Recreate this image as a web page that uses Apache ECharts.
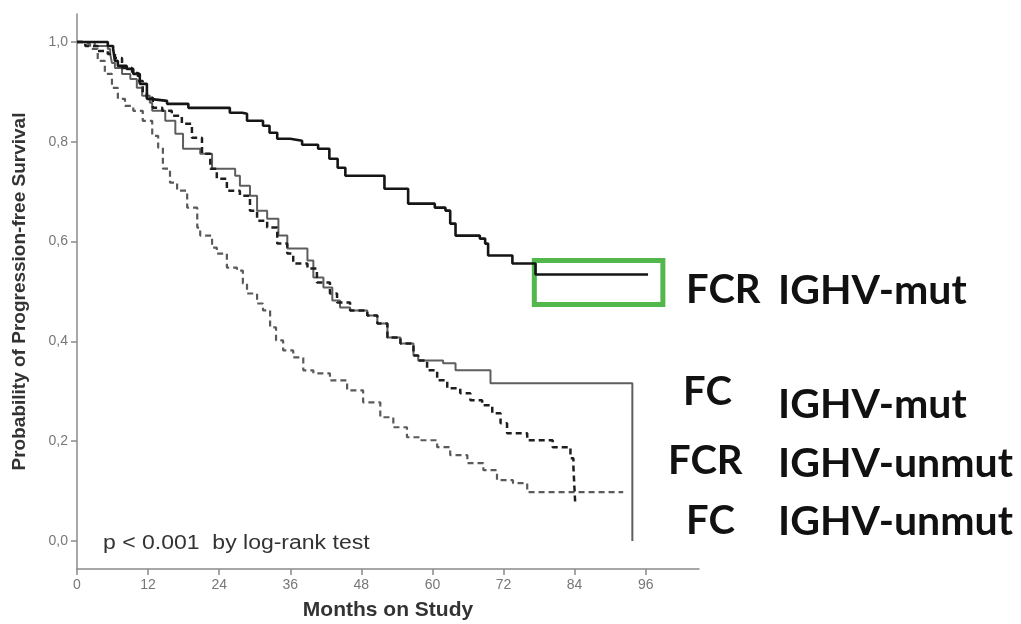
<!DOCTYPE html>
<html>
<head>
<meta charset="utf-8">
<script src="https://cdn.jsdelivr.net/npm/echarts@6/dist/echarts.min.js"></script>
<style>
  html, body { margin: 0; padding: 0; background: #fff; }
  #main { width: 1021px; height: 624px; }
</style>
</head>
<body>
<div id="main"></div>
<script>
// ==============================
// data
// ==============================

const xTicks = [0, 12, 24, 36, 48, 60, 72, 84, 96];
const yTicks = [0, 0.2, 0.4, 0.6, 0.8, 1.0];

// FCR IGHV-mut
const fcrMutMonths = [0, 5.2, 6.1, 6.4, 6.9, 8.4, 9.5, 10.6, 11.8, 12.3, 15.2, 18.8, 25.8, 27.9, 28.7, 31.4, 32.5, 33.8, 36.0, 38.0, 40.7, 42.6, 44.0, 45.3, 51.9, 55.9, 60.4, 62.2, 63.0, 63.9, 68.0, 68.9, 69.4, 73.5, 77.4, 96.4];
const fcrMutPFS    = [1.0, 0.992, 0.986, 0.962, 0.952, 0.946, 0.936, 0.916, 0.886, 0.882, 0.876, 0.868, 0.858, 0.856, 0.842, 0.832, 0.818, 0.806, 0.802, 0.794, 0.786, 0.766, 0.748, 0.732, 0.706, 0.676, 0.668, 0.662, 0.636, 0.612, 0.606, 0.596, 0.572, 0.556, 0.534, 0.534];

// FC IGHV-mut
const fcMutMonths = [0, 3.0, 5.2, 5.6, 5.9, 6.4, 7.6, 9.0, 10.1, 11.0, 12.3, 12.7, 14.9, 16.6, 17.9, 20.8, 22.8, 26.7, 27.5, 29.2, 30.4, 32.1, 34.0, 35.5, 38.9, 39.9, 41.6, 43.1, 44.4, 46.1, 49.0, 50.7, 52.4, 54.6, 56.8, 57.6, 61.8, 63.9, 69.8, 93.75, 93.75];
const fcMutPFS    = [1.0, 0.992, 0.986, 0.976, 0.958, 0.948, 0.936, 0.926, 0.908, 0.892, 0.878, 0.862, 0.842, 0.816, 0.786, 0.776, 0.746, 0.732, 0.712, 0.692, 0.662, 0.646, 0.612, 0.586, 0.562, 0.528, 0.508, 0.482, 0.468, 0.462, 0.452, 0.436, 0.408, 0.396, 0.372, 0.362, 0.356, 0.342, 0.316, 0.316, 0];

// FCR IGHV-unmut
const fcrUnmutMonths = [0, 1.4, 3.5, 5.2, 6.4, 7.6, 9.3, 10.3, 11.1, 11.8, 12.8, 14.4, 16.0, 17.7, 19.4, 21.1, 22.5, 23.6, 25.3, 27.5, 29.2, 30.4, 32.1, 33.8, 35.5, 36.5, 38.9, 40.5, 42.7, 43.9, 46.1, 49.0, 50.7, 52.4, 54.6, 56.8, 57.6, 59.1, 60.8, 62.5, 64.7, 66.4, 68.4, 70.1, 71.5, 72.6, 76.0, 80.3, 83.3, 83.8, 84.1];
const fcrUnmutPFS    = [1.0, 0.992, 0.982, 0.976, 0.968, 0.948, 0.938, 0.922, 0.898, 0.888, 0.868, 0.862, 0.852, 0.836, 0.808, 0.776, 0.746, 0.726, 0.702, 0.692, 0.662, 0.642, 0.628, 0.596, 0.576, 0.556, 0.546, 0.518, 0.496, 0.478, 0.462, 0.452, 0.436, 0.408, 0.396, 0.372, 0.362, 0.342, 0.322, 0.306, 0.296, 0.282, 0.272, 0.256, 0.236, 0.216, 0.202, 0.188, 0.166, 0.148, 0.076];

// FC IGHV-unmut
const fcUnmutMonths = [0, 0.8, 2.2, 3.5, 4.7, 5.9, 6.9, 8.1, 9.5, 11.1, 12.7, 13.7, 14.5, 15.7, 16.9, 18.6, 20.3, 20.8, 22.8, 23.6, 25.3, 27.0, 28.0, 28.7, 30.4, 31.4, 32.6, 33.6, 34.8, 36.5, 38.2, 39.9, 42.7, 45.6, 48.3, 51.2, 53.4, 55.7, 57.9, 60.8, 63.0, 65.9, 68.6, 70.9, 73.6, 76.0, 92.2];
const fcUnmutPFS    = [1.0, 0.996, 0.986, 0.962, 0.936, 0.908, 0.886, 0.872, 0.862, 0.842, 0.812, 0.788, 0.746, 0.718, 0.702, 0.668, 0.628, 0.612, 0.588, 0.576, 0.548, 0.542, 0.516, 0.496, 0.476, 0.462, 0.428, 0.402, 0.382, 0.368, 0.342, 0.336, 0.322, 0.302, 0.278, 0.248, 0.228, 0.208, 0.202, 0.188, 0.172, 0.156, 0.142, 0.122, 0.116, 0.098, 0.098];

// highlighted region (months / probability)
const boxMonths = [77.2, 98.9];
const boxPFS    = [0.474, 0.562];

// right-hand labels
const armLabels   = ['FCR', 'FC', 'FCR', 'FC'];
const ighvLabels  = ['IGHV-mut', 'IGHV-mut', 'IGHV-unmut', 'IGHV-unmut'];
const pText = 'p < 0.001  by log-rank test';


// ==============================
// helpers
// ==============================

function zip(xs, ys){
    return xs.map((x, i) => [x, ys[i]]);
}

function kmSeries(name, xs, ys, color, width, dashed){
    return {
        name: name,
        type: 'line',
        step: 'end',
        symbol: 'none',
        silent: true,
        animation: false,
        data: zip(xs, ys),
        lineStyle: {
            color: color,
            width: width,
            type: dashed ? [6, 4] : 'solid'
        }
    };
}


// ==============================
// chart
// ==============================

const myChart = echarts.init(document.getElementById('main'));

const fcrMut = kmSeries('FCR IGHV-mut', fcrMutMonths, fcrMutPFS, '#151515', 2.6, false);
fcrMut.markArea = {
    silent: true,
    itemStyle: {
        color: 'rgba(0,0,0,0)',
        borderColor: '#52b84c',
        borderWidth: 5
    },
    data: [[
        { coord: [boxMonths[0], boxPFS[1]] },
        { coord: [boxMonths[1], boxPFS[0]] }
    ]]
};

// text positions for the label columns
const armRowsY = [290, 392, 461, 521];
const armX = [686, 683, 668, 686];
const ighvRowsY = [290, 404, 463, 521];

const graphics = [];
armLabels.forEach((t, i) => {
    graphics.push({
        type: 'text', left: armX[i], top: armRowsY[i] - 20,
        style: { text: t, fontSize: 40, fontWeight: 'bold', fontFamily: 'Lato', fill: '#111' }
    });
});
ighvLabels.forEach((t, i) => {
    graphics.push({
        type: 'text', left: 778, top: ighvRowsY[i] - 20,
        style: { text: t, fontSize: 41, fontWeight: 'bold', fontFamily: 'Lato', fill: '#111' }
    });
});
graphics.push({
    type: 'text', x: 103, y: 533, scaleX: 1.15,
    style: { text: pText, fontSize: 20, fontFamily: 'Liberation Sans', fill: '#333' }
});

myChart.setOption({

    backgroundColor: '#ffffff',

    grid: {
        left: 77,
        right: 322,
        top: 14,
        bottom: 55,
        outerBoundsMode: 'none'
    },

    xAxis: {
        type: 'value',
        min: 0,
        max: 105,
        name: 'Months on Study',
        nameLocation: 'middle',
        nameGap: 31,
        nameTextStyle: { fontSize: 21, fontWeight: 'bold', color: '#333', fontFamily: 'Liberation Sans' },
        axisLine: { onZero: false, lineStyle: { color: '#8a8a8a', width: 1.5 } },
        axisTick: { show: true, length: 6, customValues: xTicks, lineStyle: { color: '#8a8a8a', width: 1.5 } },
        axisLabel: { customValues: xTicks, color: '#777', fontSize: 14, margin: 9, fontFamily: 'Liberation Sans' },
        splitLine: { show: false }
    },

    yAxis: {
        type: 'value',
        min: -0.056,
        max: 1.056,
        name: 'Probability of Progression-free Survival',
        nameLocation: 'middle',
        nameGap: 48,
        nameTextStyle: { fontSize: 19, fontWeight: 'bold', color: '#333', fontFamily: 'Liberation Sans' },
        axisLine: { show: true, onZero: false, lineStyle: { color: '#8a8a8a', width: 1.5 } },
        axisTick: { show: true, length: 6, customValues: yTicks, lineStyle: { color: '#8a8a8a', width: 1.5 } },
        axisLabel: {
            customValues: yTicks,
            color: '#777',
            fontSize: 14,
            margin: 9,
            fontFamily: 'Liberation Sans',
            formatter: v => v.toFixed(1).replace('.', ',')
        },
        splitLine: { show: false }
    },

    series: [
        kmSeries('FC IGHV-unmut', fcUnmutMonths, fcUnmutPFS, '#5a5a5a', 2.2, true),
        kmSeries('FC IGHV-mut', fcMutMonths, fcMutPFS, '#5e5e5e', 2, false),
        kmSeries('FCR IGHV-unmut', fcrUnmutMonths, fcrUnmutPFS, '#1e1e1e', 2.5, true),
        fcrMut
    ],

    graphic: graphics

});
</script>
</body>
</html>
